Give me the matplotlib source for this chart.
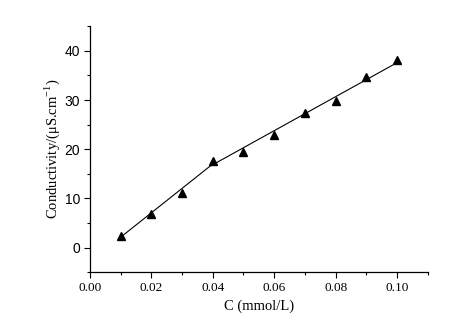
import matplotlib
matplotlib.use("Agg")
import matplotlib.pyplot as plt
from matplotlib.ticker import MultipleLocator

# measured points
conc = [0.01, 0.02, 0.03, 0.04, 0.05, 0.06, 0.07, 0.08, 0.09, 0.10]
conductivity = [2.3, 6.8, 11.0, 17.5, 19.5, 22.9, 27.3, 29.9, 34.6, 38.1]

# two-segment fit line
fit_conc = [0.01, 0.039, 0.10]
fit_cond = [2.1, 16.5, 37.6]

fig = plt.figure(figsize=(4.61, 3.24), dpi=100)
ax = fig.add_axes([0.195, 0.160, 0.733, 0.759])

ax.plot(fit_conc, fit_cond, color='black', linewidth=0.8)
ax.plot(conc, conductivity, linestyle='none', marker='^', color='black', markersize=6)

ax.set_xlim(0, 0.11)
ax.set_ylim(-5, 45)
ax.xaxis.set_major_locator(MultipleLocator(0.02))
ax.xaxis.set_minor_locator(MultipleLocator(0.01))
ax.yaxis.set_major_locator(MultipleLocator(10))
ax.yaxis.set_minor_locator(MultipleLocator(5))

ax.spines['top'].set_visible(False)
ax.spines['right'].set_visible(False)
for s in ('left', 'bottom'):
    ax.spines[s].set_linewidth(0.9)

ax.tick_params(which='major', direction='out', length=4, width=0.8, pad=3)
ax.tick_params(which='minor', direction='out', length=2.5, width=0.8)

ax.set_xticklabels(['%.2f' % v for v in ax.get_xticks()], family='Liberation Serif', fontsize=9.5)
for lab in ax.get_yticklabels():
    lab.set_family('Liberation Sans')
    lab.set_fontsize(10)

ax.set_xlabel('C (mmol/L)', family='Liberation Serif', fontsize=10.5, labelpad=4)
ax.set_ylabel(r'Conductivity/($\mathregular{\mu}$S.cm$^{\mathregular{-1}}$)',
              family='Liberation Serif', fontsize=10.5, labelpad=1.5)

fig.savefig('out.png', dpi=100)
